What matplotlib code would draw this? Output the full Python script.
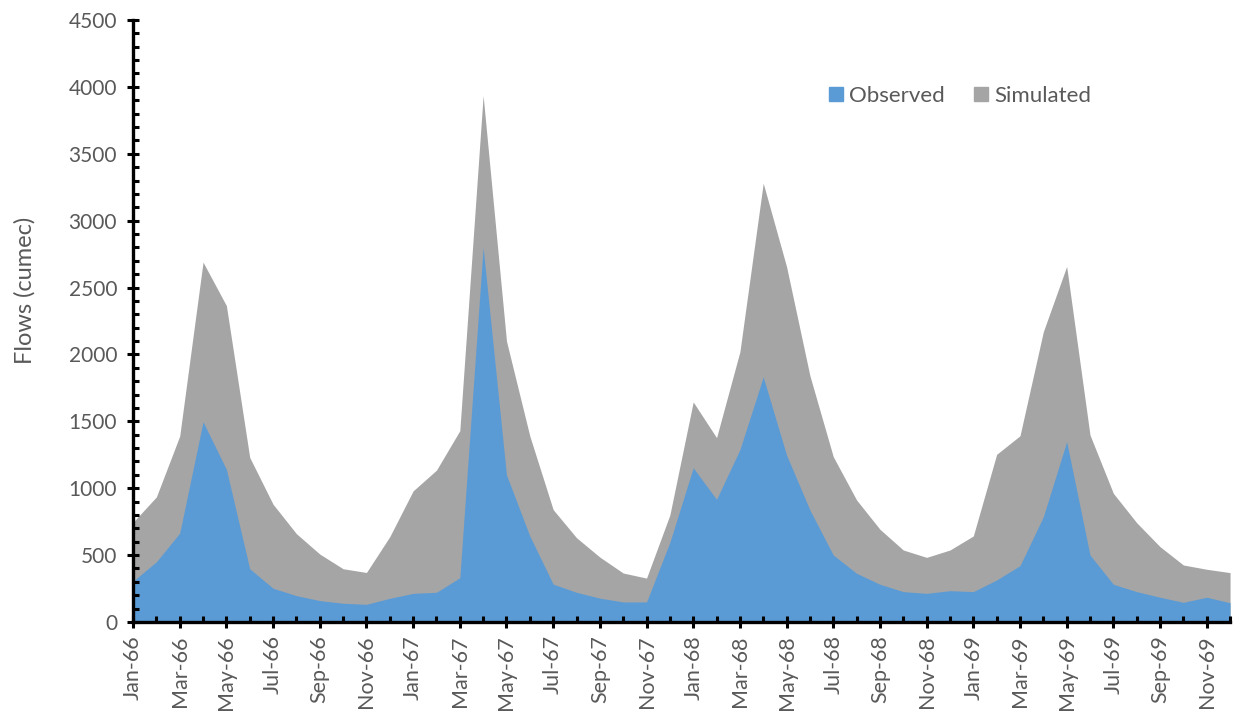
import matplotlib
matplotlib.use("Agg")
import matplotlib.pyplot as plt
from matplotlib.lines import Line2D
import numpy as np

months = ["Jan", "Feb", "Mar", "Apr", "May", "Jun", "Jul", "Aug", "Sep", "Oct", "Nov", "Dec"]
years = ["66", "67", "68", "69"]
dates = [f"{m}-{y}" for y in years for m in months]

simulated = [745, 935, 1390, 2690, 2365, 1230, 880, 660, 508, 398, 370, 638,
             980, 1135, 1430, 3935, 2100, 1390, 840, 630, 485, 366, 328, 800,
             1645, 1378, 2020, 3280, 2656, 1841, 1236, 912, 693, 538, 483, 538,
             643, 1253, 1392, 2170, 2658, 1398, 962, 742, 563, 426, 394, 369]

observed = [305, 450, 665, 1497, 1141, 398, 252, 197, 160, 140, 132, 177,
            214, 222, 331, 2800, 1100, 643, 283, 222, 178, 150, 150, 596,
            1153, 917, 1289, 1832, 1248, 837, 501, 364, 282, 227, 214, 234,
            227, 314, 421, 787, 1348, 501, 282, 227, 185, 147, 185, 144]

blue = "#5B9BD5"
gray = "#A5A5A5"
text_color = "#595959"
font = ["Lato", "DejaVu Sans"]

fig = plt.figure(figsize=(12.34, 7.11), dpi=100)
ax = fig.add_axes([0.1078, 0.1252, 0.8890, 0.8467])

x = np.arange(len(dates))
ax.fill_between(x, 0, simulated, color=gray, linewidth=0, label="Simulated")
ax.fill_between(x, 0, observed, color=blue, linewidth=0, label="Observed")

ax.set_xlim(0, len(dates) - 1)
ax.set_ylim(0, 4500)

ax.set_yticks(np.arange(0, 4501, 500))
ax.set_yticks(np.arange(0, 4501, 100), minor=True)
ax.set_xticks(x[::2])
ax.set_xticklabels(dates[::2], rotation=90, family=font, fontsize=15.5, color=text_color)
ax.set_xticks(x[1::2], minor=True)
for lab in ax.get_yticklabels():
    lab.set_family(font)
    lab.set_fontsize(15)
    lab.set_color(text_color)

ax.tick_params(axis="both", which="major", direction="inout", length=9, width=2.2, color="black")
ax.tick_params(axis="both", which="minor", direction="in", length=4.5, width=2.2, color="black")
ax.tick_params(axis="y", which="major", pad=7)
ax.tick_params(axis="x", which="major", pad=5)

for s in ["top", "right"]:
    ax.spines[s].set_visible(False)
for s in ["left", "bottom"]:
    ax.spines[s].set_linewidth(2.4)
    ax.spines[s].set_color("black")

ax.set_ylabel("Flows (cumec)", family=font, fontsize=17, color=text_color)
ax.yaxis.set_label_coords(-0.089, 0.551)

handles = [Line2D([0], [0], marker="s", linestyle="none", markersize=10, color=blue),
           Line2D([0], [0], marker="s", linestyle="none", markersize=10, color=gray)]
ax.legend(handles, ["Observed", "Simulated"], loc="center", bbox_to_anchor=(0.752, 0.874),
          ncol=2, frameon=False, prop={"family": font, "size": 16}, labelcolor=text_color,
          handletextpad=0.1, columnspacing=1.15, handlelength=1.0)

fig.savefig("out.png", dpi=100)
